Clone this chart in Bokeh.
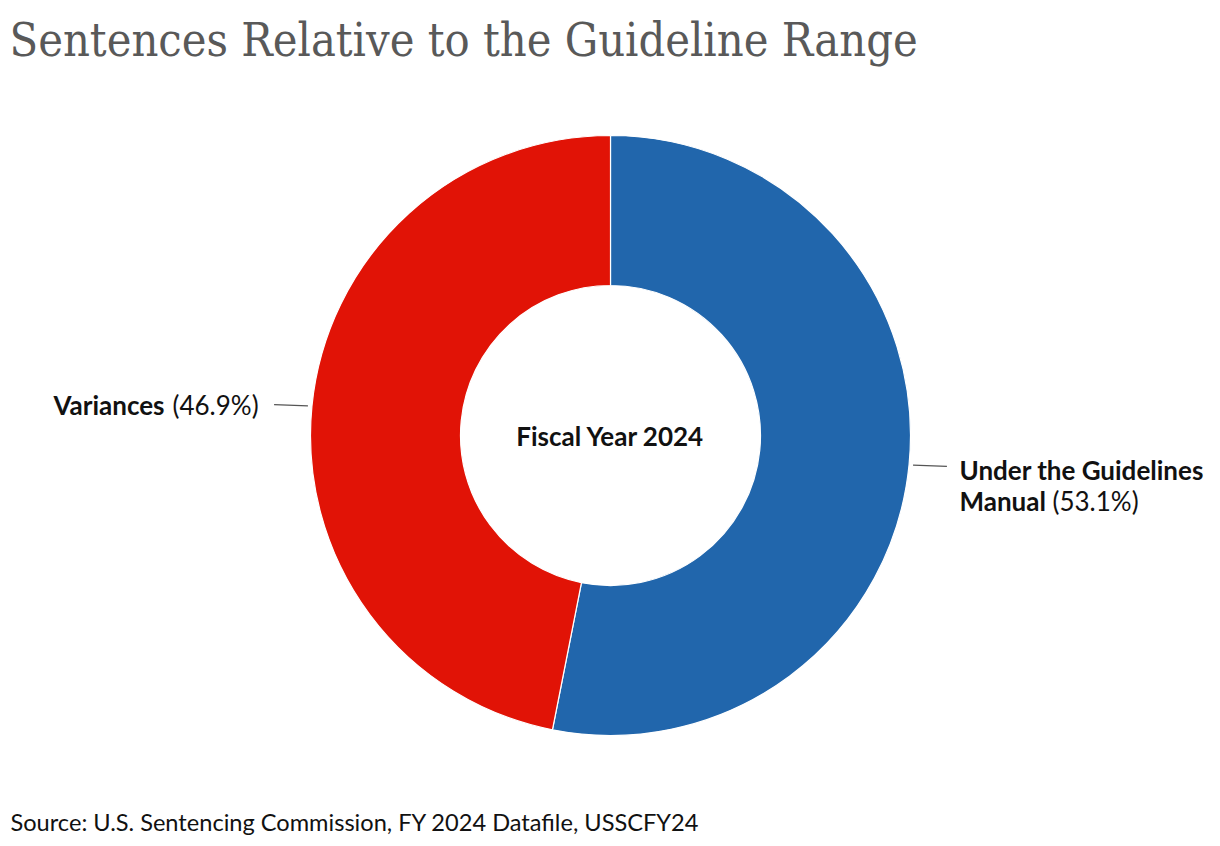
import math
from bokeh.plotting import figure
from bokeh.models import Range1d, ColumnDataSource
from bokeh.core.properties import value
from bokeh.embed import file_html
from bokeh.resources import INLINE

# ---- data ----
categories = ["Under the Guidelines Manual", "Variances"]
shares = [53.1, 46.9]
colors = ["#2166ac", "#e11306"]
title_text = "Sentences Relative to the Guideline Range"
center_text = "Fiscal Year 2024"
source_text = "Source: U.S. Sentencing Commission, FY 2024 Datafile, USSCFY24"

W, H = 1212, 838
def X(ix): return ix
def Y(iy): return H - iy

p = figure(width=W, height=H, x_range=Range1d(0, W), y_range=Range1d(0, H),
           output_backend="svg", toolbar_location=None, min_border=0)
p.axis.visible = False
p.grid.visible = False
p.outline_line_color = None
p.background_fill_color = "white"

cx, cy = X(610), Y(435)
r_out, r_in = 300, 150

total = sum(shares)
starts, ends, mids = [], [], []
acc = 0.0
for s in shares:
    a0 = math.radians(90 - 360 * acc / total)
    acc += s
    a1 = math.radians(90 - 360 * acc / total)
    starts.append(a0); ends.append(a1); mids.append((a0 + a1) / 2)

src = ColumnDataSource(dict(start=starts, end=ends, color=colors))
p.annular_wedge(x=cx, y=cy, inner_radius=r_in, outer_radius=r_out,
                start_angle="start", end_angle="end", direction="clock",
                fill_color="color", line_color="white", line_width=1.2, source=src)

# leader lines
for m in mids:
    x0 = cx + (r_out + 4) * math.cos(m); y0 = cy + (r_out + 4) * math.sin(m)
    x1 = cx + (r_out + 38) * math.cos(m); y1 = cy + (r_out + 38) * math.sin(m) + (2 if math.cos(m) > 0 else -2)
    p.line([x0, x1], [y0, y1], line_color="#555555", line_width=1.3)

font = value("Lato")
fs = "26px"
ink = "#111111"

# Variances label (left)
p.text(x=[X(53)], y=[Y(404)], text=["Variances"], text_font=font, text_font_size=fs,
       text_font_style="bold", text_color=ink, text_baseline="middle", text_align="left")
p.text(x=[X(172)], y=[Y(404)], text=[f"({shares[1]:.1f}%)"], text_font=font, text_font_size=fs,
       text_color=ink, text_baseline="middle", text_align="left")

# Under the Guidelines label (right)
p.text(x=[X(959)], y=[Y(469)], text=["Under the Guidelines"], text_font=font, text_font_size=fs,
       text_font_style="bold", text_color=ink, text_baseline="middle", text_align="left")
p.text(x=[X(959)], y=[Y(500)], text=["Manual"], text_font=font, text_font_size=fs,
       text_font_style="bold", text_color=ink, text_baseline="middle", text_align="left")
p.text(x=[X(1052)], y=[Y(500)], text=[f"({shares[0]:.1f}%)"], text_font=font, text_font_size=fs,
       text_color=ink, text_baseline="middle", text_align="left")

# center label
p.text(x=[cx], y=[cy], text=[center_text], text_font=font, text_font_size=fs,
       text_font_style="bold", text_color=ink, text_baseline="middle", text_align="center")

# title
p.text(x=[X(9)], y=[Y(39)], text=[title_text], text_font=value("DejaVu Serif Condensed"), text_font_size="46.5px",
       text_color="#595959", text_baseline="middle", text_align="left")

# source
p.text(x=[X(10)], y=[Y(821)], text=[source_text], text_font=font, text_font_size="23.6px",
       text_color=ink, text_baseline="middle", text_align="left")

open("out.html", "w").write(file_html(p, INLINE))
